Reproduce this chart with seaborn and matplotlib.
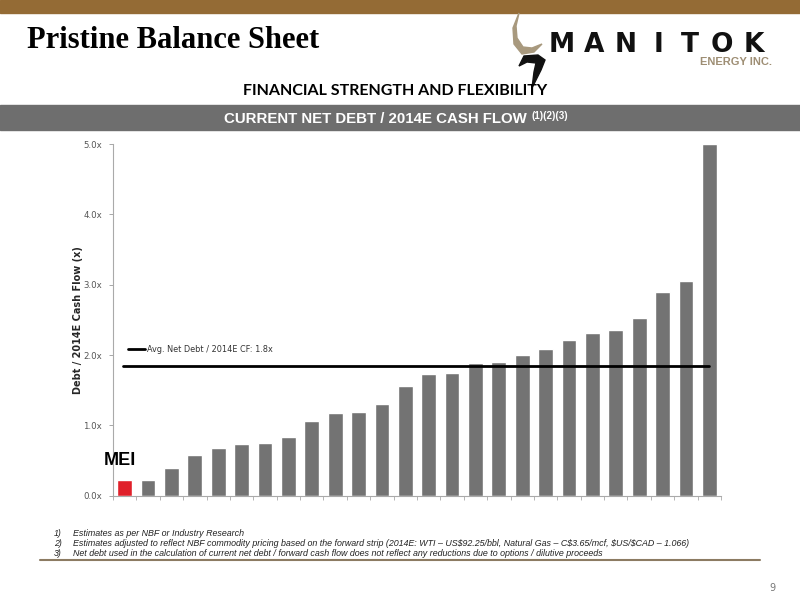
import numpy as np
import pandas as pd
import seaborn as sns
from matplotlib import pyplot as plt
from matplotlib.ticker import FixedLocator, FuncFormatter

# peer group, sorted low to high; MEI first
companies = ['MEI'] + ['Peer %d' % i for i in range(1, 26)]
debt_to_cf = [0.23, 0.23, 0.40, 0.58, 0.68, 0.73, 0.745, 0.83, 1.06, 1.17,
              1.19, 1.31, 1.56, 1.73, 1.74, 1.88, 1.90, 2.00, 2.08, 2.22,
              2.31, 2.36, 2.53, 2.89, 3.05, 5.00]
avg_multiple = 1.84
avg_label = 'Avg. Net Debt / 2014E CF: 1.8x'
footnotes = [
    'Estimates as per NBF or Industry Research',
    'Estimates adjusted to reflect NBF commodity pricing based on the forward strip '
    '(2014E: WTI \u2013 US\\$92.25/bbl, Natural Gas \u2013 C\\$3.65/mcf, \\$US/\\$CAD \u2013 1.066)',
    'Net debt used in the calculation of current net debt / forward cash flow does not '
    'reflect any reductions due to options / dilutive proceeds',
]


def px(x, y):
    # pixel position (from top-left) -> figure fraction
    return x / 800, 1 - y / 600


def main():
    sns.set_theme(style='white')
    plt.rcParams['font.family'] = ['DejaVu Sans']

    data = pd.DataFrame({'Company': companies, 'Multiple': debt_to_cf})
    colors = ['#E0202A'] + ['#737373'] * (len(companies) - 1)

    fig = plt.figure(figsize=(8, 6), dpi=100)
    fig.patch.set_facecolor('white')
    tf = fig.transFigure

    # header decoration
    fig.patches.append(plt.Rectangle(px(0, 13), 1, 13 / 600, transform=tf, color='#946B35'))
    fig.patches.append(plt.Rectangle(px(0, 130), 1, 25 / 600, transform=tf, color='#6E6E6E'))
    fig.text(*px(27, 40), 'Pristine Balance Sheet', family='Liberation Serif', weight='bold',
             fontsize=22, color='black', va='center', ha='left')

    # logo emblem (rough)
    horn = [(519, 13), (513, 28), (514, 44), (522, 54), (534, 52), (542, 44),
            (532, 48), (523, 47), (517, 38), (516, 26)]
    fig.patches.append(plt.Polygon([px(*p) for p in horn], closed=True, transform=tf,
                                   color='#A8997E'))
    blade = [(524, 56), (538, 55), (545, 60), (541, 70), (532, 88), (534, 72),
             (536, 63), (527, 62), (519, 66)]
    fig.patches.append(plt.Polygon([px(*p) for p in blade], closed=True, transform=tf,
                                   color='#111111'))
    for i, letter in enumerate('MANITOK'):
        fig.text(*px(562 + i * 32, 45.5), letter, family='DejaVu Sans', weight='bold',
                 fontsize=19, color='#111111', va='center', ha='center')
    fig.text(*px(772, 62), 'ENERGY INC.', family='Liberation Sans', weight='bold',
             fontsize=8, color='#9E8E74', va='center', ha='right')
    fig.text(*px(395, 91), 'FINANCIAL STRENGTH AND FLEXIBILITY', family='Lato',
             weight='bold', fontsize=11.5, color='black', va='center', ha='center')
    fig.text(*px(375, 119), 'CURRENT NET DEBT / 2014E CASH FLOW', family='Liberation Sans',
             weight='bold', fontsize=10.8, color='white', va='center', ha='center')
    fig.text(*px(532, 116), '(1)(2)(3)', family='Liberation Sans',
             weight='bold', fontsize=7, color='white', va='center', ha='left')

    ax = fig.add_axes([113 / 800, 1 - 495.7 / 600, 608 / 800, (495.7 - 144) / 600])
    sns.barplot(data=data, x='Company', y='Multiple', hue='Company', palette=colors,
                legend=False, width=0.63, saturation=1, ax=ax)
    ax.set_ylim(0, 5)
    ax.set_xlim(-0.5, len(companies) - 0.5)
    ax.axhline(avg_multiple, xmin=0.0165, xmax=0.98, color='black', lw=2)

    ax.set_yticks(np.arange(0, 5.01, 1.0))
    ax.yaxis.set_major_formatter(FuncFormatter(lambda v, p: '%.1fx' % v))
    ax.tick_params(axis='y', left=True, length=3, width=0.6, color='#999999',
                   labelsize=6.2, labelcolor='#555555', pad=5)
    ax.set_xticks([])
    ax.xaxis.set_minor_locator(FixedLocator(np.arange(-0.5, len(companies), 1)))
    ax.tick_params(axis='x', which='minor', bottom=True, length=3, width=0.6, color='#AAAAAA')
    ax.set_xlabel('')
    ax.set_ylabel('Debt / 2014E Cash Flow (x)', fontsize=7, weight='bold', labelpad=0)
    for side in ['top', 'right']:
        ax.spines[side].set_visible(False)
    for side in ['left', 'bottom']:
        ax.spines[side].set_color('#AAAAAA')
        ax.spines[side].set_linewidth(0.8)

    # in-chart labels
    ax.plot([0.13, 0.87], [2.08, 2.08], color='black', lw=2, clip_on=False)
    ax.text(0.95, 2.08, avg_label, fontsize=5.9, color='#333333', va='center', ha='left')
    ax.text(-0.88, 0.50, 'MEI', family='Liberation Sans', weight='bold', fontsize=13,
            color='black', va='center', ha='left')

    # footnotes
    for i, note in enumerate(footnotes):
        y = 533 + i * 10
        fig.text(*px(54, y), '%d)' % (i + 1), family='Liberation Sans', style='italic',
                 fontsize=6.4, color='#222222', va='center')
        fig.text(*px(73, y), note, family='Liberation Sans', style='italic',
                 fontsize=6.4, color='#222222', va='center')
    fig.lines.append(plt.Line2D([40 / 800, 760 / 800], [1 - 560 / 600] * 2,
                                transform=tf, color='#8C7B62', lw=1.5))
    fig.text(*px(775, 588), '9', fontsize=7, color='#777777', va='center', ha='right')

    plt.savefig('out.png', dpi=100)


if __name__ == '__main__':
    main()
